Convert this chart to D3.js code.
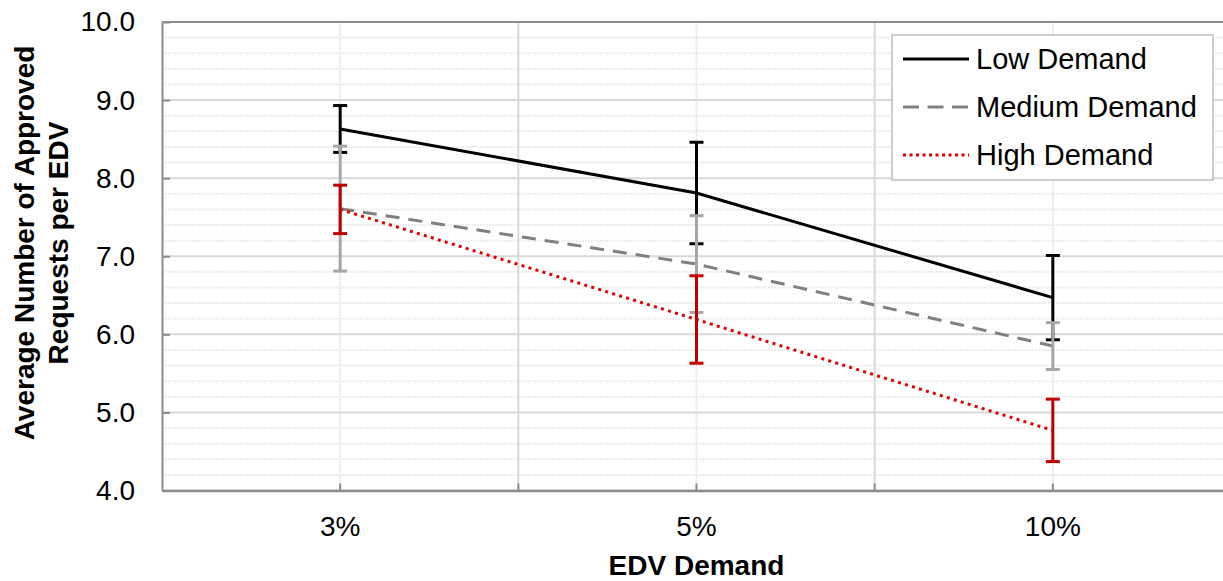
<!DOCTYPE html>
<html>
<head>
<meta charset="utf-8">
<script src="https://cdn.jsdelivr.net/npm/d3@7"></script>
<style>
  body { margin: 0; background: #fff; }
  text { font-family: "Liberation Sans", Arial, sans-serif; fill: #000; }
</style>
</head>
<body>
<script>
// data
const categories = ["3%", "5%", "10%"];
const seriesNames = ["Low Demand", "Medium Demand", "High Demand"];
const lowMean = [8.63, 7.81, 6.47];
const lowErr = [0.30, 0.65, 0.54];
const mediumMean = [7.61, 6.90, 5.85];
const mediumErr = [0.80, 0.62, 0.30];
const highMean = [7.60, 6.19, 4.77];
const highErr = [0.31, 0.56, 0.40];
const yTicks = [4, 5, 6, 7, 8, 9, 10];

const width = 1223, height = 581;
const margin = {top: 22, right: -8, bottom: 90.5, left: 162};

const series = [
    {name: seriesNames[0], mean: lowMean, err: lowErr, color: "#000", barColor: "#000", dash: null, legDash: null},
    {name: seriesNames[1], mean: mediumMean, err: mediumErr, color: "#808080", barColor: "#a6a6a6", dash: "14 9", legDash: "16 8.5"},
    {name: seriesNames[2], mean: highMean, err: highErr, color: "#e00000", barColor: "#c00000", dash: "3 4.3", legDash: "3 3.5"}
];

const svg = d3.select("body").append("svg")
    .attr("width", width)
    .attr("height", height);

const x = d3.scaleBand()
    .domain(categories)
    .range([margin.left, width - margin.right])
    .padding(0);

const y = d3.scaleLinear()
    .domain([4, 10])
    .range([height - margin.bottom, margin.top]);

const cx = d => x(d) + x.bandwidth() / 2;

// minor horizontal grid (every 0.2)
const minor = d3.range(4.2, 10, 0.2).filter(v => Math.abs(v - Math.round(v)) > 0.01);
svg.append("g").selectAll("line")
    .data(minor)
    .enter().append("line")
    .attr("x1", margin.left).attr("x2", width - margin.right)
    .attr("y1", d => y(d)).attr("y2", d => y(d))
    .attr("stroke", "#ececec").attr("stroke-width", 2)
    .attr("stroke-dasharray", "2 1");

// vertical grid at categories (dotted) and boundaries (solid)
svg.append("g").selectAll("line")
    .data(categories)
    .enter().append("line")
    .attr("x1", d => cx(d)).attr("x2", d => cx(d))
    .attr("y1", y(4)).attr("y2", y(10))
    .attr("stroke", "#e6e6e6").attr("stroke-width", 2)
    .attr("stroke-dasharray", "2 1");

svg.append("g").selectAll("line")
    .data(categories.slice(1))
    .enter().append("line")
    .attr("x1", d => x(d)).attr("x2", d => x(d))
    .attr("y1", y(4)).attr("y2", y(10))
    .attr("stroke", "#d9d9d9").attr("stroke-width", 2);

// major horizontal grid
svg.append("g").selectAll("line")
    .data(yTicks)
    .enter().append("line")
    .attr("x1", margin.left).attr("x2", width - margin.right)
    .attr("y1", d => y(d)).attr("y2", d => y(d))
    .attr("stroke", "#d9d9d9").attr("stroke-width", 2);

// plot frame top
svg.append("line")
    .attr("x1", margin.left).attr("x2", width - margin.right)
    .attr("y1", y(10)).attr("y2", y(10))
    .attr("stroke", "#8c8c8c").attr("stroke-width", 2);

// axes
const yaxis = d3.axisLeft(y)
    .tickValues(yTicks)
    .tickFormat(d3.format(".1f"))
    .tickSizeInner(-8)
    .tickSizeOuter(0)
    .tickPadding(27);

const gy = svg.append("g")
    .attr("transform", `translate(${margin.left},0)`)
    .call(yaxis);
gy.select(".domain").attr("stroke", "#8c8c8c").attr("stroke-width", 2);
gy.selectAll(".tick line").attr("stroke", "#8c8c8c").attr("stroke-width", 2);
gy.selectAll(".tick text").attr("font-size", 28).attr("font-family", "Liberation Sans, Arial, sans-serif").attr("fill", "#000");

const xaxis = d3.axisBottom(x)
    .tickSizeInner(-7)
    .tickSizeOuter(0)
    .tickPadding(26);

const gx = svg.append("g")
    .attr("transform", `translate(0,${y(4)})`)
    .call(xaxis);
gx.select(".domain").attr("stroke", "#8c8c8c").attr("stroke-width", 2.5);
gx.selectAll(".tick line").attr("stroke", "#8c8c8c").attr("stroke-width", 2);
gx.selectAll(".tick text").attr("font-size", 28).attr("font-family", "Liberation Sans, Arial, sans-serif").attr("fill", "#000");

// boundary ticks on x axis
gx.selectAll(".bticks")
    .data(categories.slice(1))
    .enter().append("line")
    .attr("x1", d => x(d)).attr("x2", d => x(d))
    .attr("y1", 0).attr("y2", -7)
    .attr("stroke", "#8c8c8c").attr("stroke-width", 2);

// lines
const line = d3.line()
    .x((d, i) => cx(categories[i]))
    .y(d => y(d));

series.forEach(s => {
    svg.append("path")
        .datum(s.mean)
        .attr("d", line)
        .attr("fill", "none")
        .attr("stroke", s.color)
        .attr("stroke-width", 3)
        .attr("stroke-dasharray", s.dash);
});

// error bars
const capW = 7;
series.forEach(s => {
    const g = svg.append("g");
    const pts = s.mean.map((m, i) => ({c: categories[i], lo: m - s.err[i], hi: m + s.err[i]}));
    g.selectAll(".bar").data(pts).enter().append("line")
        .attr("x1", d => cx(d.c)).attr("x2", d => cx(d.c))
        .attr("y1", d => y(d.lo)).attr("y2", d => y(d.hi))
        .attr("stroke", s.barColor).attr("stroke-width", 3);
    g.selectAll(".capHi").data(pts).enter().append("line")
        .attr("x1", d => cx(d.c) - capW).attr("x2", d => cx(d.c) + capW)
        .attr("y1", d => y(d.hi)).attr("y2", d => y(d.hi))
        .attr("stroke", s.barColor).attr("stroke-width", 3);
    g.selectAll(".capLo").data(pts).enter().append("line")
        .attr("x1", d => cx(d.c) - capW).attr("x2", d => cx(d.c) + capW)
        .attr("y1", d => y(d.lo)).attr("y2", d => y(d.lo))
        .attr("stroke", s.barColor).attr("stroke-width", 3);
});

// legend
const legend = svg.append("g").attr("transform", "translate(892,35)");
legend.append("rect")
    .attr("width", 321).attr("height", 145)
    .attr("fill", "#fff").attr("stroke", "#bfbfbf").attr("stroke-width", 1.5);
const rows = legend.selectAll(".row")
    .data(series)
    .enter().append("g")
    .attr("transform", (d, i) => `translate(0,${24 + i * 48})`);
rows.append("line")
    .attr("x1", 11).attr("x2", 77)
    .attr("stroke", d => d.color)
    .attr("stroke-width", 3)
    .attr("stroke-dasharray", d => d.legDash);
rows.append("text")
    .attr("x", 84).attr("dy", "0.35em")
    .attr("font-size", 29)
    .text(d => d.name);

// axis titles
svg.append("text")
    .attr("x", cx("5%")).attr("y", 575)
    .attr("text-anchor", "middle")
    .attr("font-size", 28).attr("font-weight", "bold")
    .text("EDV Demand");

const yt = svg.append("text")
    .attr("transform", "translate(0,243) rotate(-90)")
    .attr("text-anchor", "middle")
    .attr("font-size", 28).attr("font-weight", "bold");
yt.append("tspan").attr("x", 0).attr("y", 34).text("Average Number of Approved");
yt.append("tspan").attr("x", 0).attr("y", 68).text("Requests per EDV");
</script>
</body>
</html>
